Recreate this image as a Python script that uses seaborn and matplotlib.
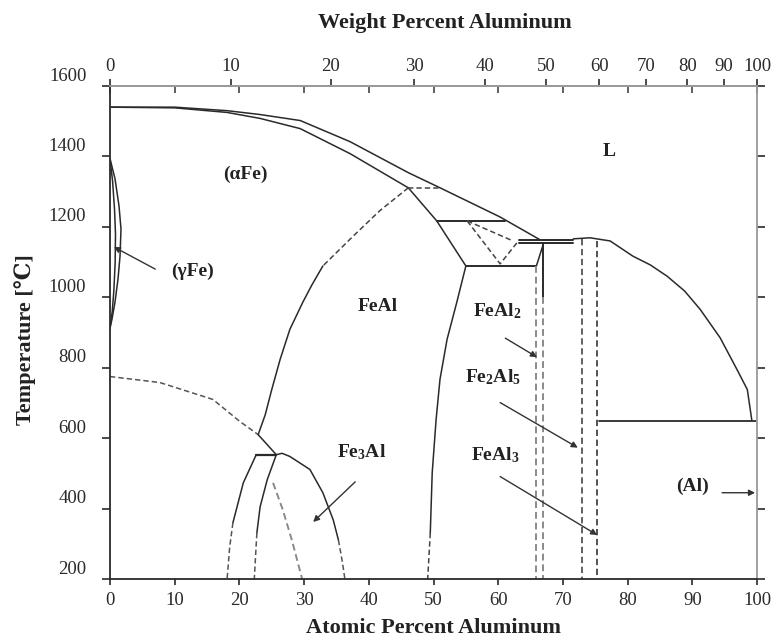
# Diagramme de phases Fe-Al (at.% Al, degres C)

import matplotlib
matplotlib.use("Agg")
import matplotlib.pyplot as plt
import matplotlib.transforms as mtransforms
import numpy as np
import pandas as pd
import seaborn as sns

# liquidus / solidus cote Fe
liq_fe_x = [0, 10, 18.1, 23.2, 29.4, 37.1, 46.1, 51.0, 60.3, 66.5]
liq_fe_t = [1540, 1540, 1530, 1519, 1502, 1442, 1354, 1311, 1228, 1163]
sol_fe_x = [0, 10, 18.1, 23.2, 29.4, 37.1, 46.1]
sol_fe_t = [1540, 1538, 1525, 1508, 1479, 1408, 1311]
# liquidus cote Al
liq_al_x = [71.6, 74.2, 77.3, 80.8, 83.5, 86.1, 88.8, 91.2, 94.3, 96.9, 98.5, 99.2]
liq_al_t = [1166, 1169, 1160, 1117, 1092, 1060, 1018, 966, 885, 795, 738, 650]

# boucle gamma
gam_ext_x = [0, 0.77, 1.39, 1.70, 1.55, 1.24, 0.77, 0.31, 0]
gam_ext_t = [1394, 1337, 1260, 1194, 1117, 1052, 986, 938, 912]
gam_int_x = [0, 0.4, 0.7, 0.85, 0.8, 0.6, 0.35, 0]
gam_int_t = [1394, 1330, 1250, 1180, 1100, 1020, 960, 912]

# transition A2/B2
b2_tir_x = [46.1, 41.7, 37.6, 32.9]
b2_tir_t = [1311, 1246, 1174, 1089]
b2_x = [32.9, 31.2, 29.8, 27.8, 26.3, 25.0, 24.0, 22.9]
b2_t = [1089, 1035, 986, 909, 824, 738, 667, 610]

# transition magnetique
mag_x = [0, 7.7, 15.9, 20.1, 22.9]
mag_t = [775, 758, 710, 647, 610]

# domaine Fe3Al
tri_x = [22.9, 25.7]
tri_t = [610, 553]
pal_x = [22.6, 25.7]
pal_t = [553, 553]
gauche_x = [22.6, 20.6, 19.0]
gauche_t = [553, 473, 360]
gauche_tir_x = [19.0, 18.5, 18.1]
gauche_tir_t = [360, 291, 200]
milieu_x = [25.7, 24.3, 23.2, 22.7]
milieu_t = [553, 482, 405, 331]
milieu_tir_x = [22.7, 22.3]
milieu_tir_t = [331, 200]
dome_x = [25.7, 26.6, 27.8, 30.9, 32.9, 34.5, 35.3]
dome_t = [553, 557, 548, 511, 445, 368, 311]
dome_tir_x = [35.3, 35.9, 36.3]
dome_tir_t = [311, 250, 200]
gris_x = [25.2, 26.7, 28.1, 29.7]
gris_t = [473, 397, 311, 200]

# limite droite de FeAl
feal_x = [55.0, 53.6, 52.1, 51.0, 50.4, 49.8, 49.5]
feal_t = [1089, 986, 881, 767, 653, 502, 331]
feal_tir_x = [49.5, 49.1]
feal_tir_t = [331, 200]

# zone epsilon
eps_x = [46.1, 50.5, 55.0]
eps_t = [1311, 1217, 1089]
peri_x = [46.1, 51.0]
peri_t = [1311, 1311]
h1217_x = [50.5, 61.1]
h1217_t = [1217, 1217]
h1089_x = [55.0, 65.9]
h1089_t = [1089, 1089]
v_tir_x = [55.2, 60.3, 62.9]
v_tir_t = [1217, 1095, 1155]
d_tir_x = [55.2, 62.3]
d_tir_t = [1217, 1160]
eut_x = [63.2, 71.6]
eut_haut_t = [1163, 1163]
eut_bas_t = [1155, 1155]

# intermetalliques
feal2_diag_x = [66.9, 65.9]
feal2_diag_t = [1147, 1089]
feal2_g_x = [65.9, 65.9]
feal2_g_t = [1089, 200]
feal2_d_x = [66.9, 66.9]
feal2_d_t = [1155, 1000]
feal2_d_tir_t = [1000, 200]
fe2al5_x = [73.0, 73.0]
fe2al5_t = [1166, 200]
feal3_x = [75.3, 75.3]
feal3_t = [1160, 200]
eut_al_x = [75.6, 99.9]
eut_al_t = [650, 650]

# etiquettes (texte, x, T)
etiquettes = ["(\u03b1Fe)", "(\u03b3Fe)", "L", "FeAl", r"FeAl$_2$",
              r"Fe$_2$Al$_5$", r"FeAl$_3$", r"Fe$_3$Al", "(Al)"]
etiq_x = [20.9, 12.7, 77.1, 41.4, 59.8, 59.2, 59.5, 38.9, 90.1]
etiq_t = [1348, 1075, 1414, 975, 961, 773, 553, 559, 462]

# fleches (depart -> pointe)
fl_x0 = [7.0, 37.9, 61.1, 60.3, 60.3, 94.6]
fl_t0 = [1080, 476, 884, 701, 491, 445]
fl_x1 = [0.6, 31.4, 66.0, 72.3, 75.3, 99.7]
fl_t1 = [1143, 362, 830, 573, 325, 445]

wt_ticks = [0, 10, 20, 30, 40, 50, 60, 70, 80, 90, 100]

sns.set_theme(style="ticks")
plt.rcParams["font.family"] = ["Liberation Serif", "DejaVu Serif", "Noto Sans CJK JP"]
plt.rcParams["mathtext.fontset"] = "custom"
plt.rcParams["mathtext.rm"] = "Liberation Serif:bold"
plt.rcParams["mathtext.it"] = "Liberation Serif:bold"
plt.rcParams["mathtext.bf"] = "Liberation Serif:bold"

fig = plt.figure(figsize=(7.79, 6.41), dpi=100)
ax = fig.add_axes([0.1412, 0.0967, 0.8306, 0.7691])

NOIR = "#2a2a2a"
GRIS = "#8a8a8a"
TIRETS = (0, (3.5, 2))


def courbe(x, t, style="-", color=NOIR, lw=1.1):
    df = pd.DataFrame({"x": x, "t": t})
    sns.lineplot(data=df, x="x", y="t", sort=False, estimator=None, ax=ax,
                 color=color, lw=lw, linestyle=style)


courbe(liq_fe_x, liq_fe_t)
courbe(sol_fe_x, sol_fe_t)
courbe(liq_al_x, liq_al_t)
courbe(gam_ext_x, gam_ext_t)
courbe(gam_int_x, gam_int_t)
courbe(b2_tir_x, b2_tir_t, TIRETS, "#444")
courbe(b2_x, b2_t)
courbe(mag_x, mag_t, TIRETS, "#555")
courbe(tri_x, tri_t)
courbe(pal_x, pal_t, lw=1.6)
courbe(gauche_x, gauche_t)
courbe(gauche_tir_x, gauche_tir_t, TIRETS, "#555")
courbe(milieu_x, milieu_t)
courbe(milieu_tir_x, milieu_tir_t, TIRETS, "#555")
courbe(dome_x, dome_t)
courbe(dome_tir_x, dome_tir_t, TIRETS, "#555")
courbe(gris_x, gris_t, TIRETS, GRIS, lw=1.4)
courbe(feal_x, feal_t)
courbe(feal_tir_x, feal_tir_t, TIRETS, "#444")
courbe(eps_x, eps_t)
courbe(peri_x, peri_t, TIRETS, "#444")
courbe(h1217_x, h1217_t, lw=1.4)
courbe(h1089_x, h1089_t, lw=1.4)
courbe(v_tir_x, v_tir_t, TIRETS, "#444")
courbe(d_tir_x, d_tir_t, TIRETS, "#444")
courbe(eut_x, eut_haut_t, lw=1.4)
courbe(eut_x, eut_bas_t, lw=1.4)
courbe(feal2_diag_x, feal2_diag_t)
courbe(feal2_g_x, feal2_g_t, TIRETS, GRIS, lw=1.4)
courbe(feal2_d_x, feal2_d_t, lw=1.4)
courbe(feal2_d_x, feal2_d_tir_t, TIRETS, GRIS, lw=1.4)
courbe(fe2al5_x, fe2al5_t, TIRETS, "#555", lw=1.3)
courbe(feal3_x, feal3_t, TIRETS, "#444", lw=1.3)
courbe(eut_al_x, eut_al_t, lw=1.3)

for txt, x, t in zip(etiquettes, etiq_x, etiq_t):
    ax.text(x, t, txt, fontsize=14, fontweight="bold", ha="center", va="center", color="#222")

for x0, t0, x1, t1 in zip(fl_x0, fl_t0, fl_x1, fl_t1):
    ax.annotate("", xy=(x1, t1), xytext=(x0, t0),
                arrowprops=dict(arrowstyle="-|>", color="#333", lw=1.0,
                                mutation_scale=9, shrinkA=0, shrinkB=0))

ax.set_xlim(0, 100)
ax.set_ylim(200, 1600)
ax.set_xticks(range(0, 101, 10))
ax.set_yticks(range(200, 1601, 200))
ax.tick_params(axis="x", direction="out", length=4, width=1.2, pad=5, labelsize=13.5, colors=NOIR)
ax.tick_params(axis="y", direction="out", length=6, width=1.2, pad=11, labelsize=13.5, colors=NOIR,
               right=True)
ax.set_xlabel("Atomic Percent Aluminum", fontsize=16, fontweight="bold", color="#222")
ax.xaxis.set_label_coords(0.5, -0.099)
ax.xaxis.label.set_va("center")
ax.set_ylabel("Temperature [\u2103]", fontsize=16, fontweight="bold", color="#222")
ax.yaxis.set_label_coords(-0.131, 0.485)
ax.yaxis.label.set_va("center")

for cote in ["left", "bottom"]:
    ax.spines[cote].set_color(NOIR)
    ax.spines[cote].set_linewidth(1.3)
for cote in ["top", "right"]:
    ax.spines[cote].set_color("#999")
    ax.spines[cote].set_linewidth(1.3)

# etiquettes de l'axe y un peu au-dessus des graduations, comme sur l'original
decal = mtransforms.ScaledTranslation(0, 0.12, fig.dpi_scale_trans)
for lab in ax.get_yticklabels():
    lab.set_transform(lab.get_transform() + decal)


def at_vers_wt(a):
    a = np.asarray(a, dtype=float)
    with np.errstate(divide="ignore", invalid="ignore"):
        return 100 * 26.98 * a / (26.98 * a + 55.845 * (100 - a))


def wt_vers_at(w):
    w = np.asarray(w, dtype=float)
    with np.errstate(divide="ignore", invalid="ignore"):
        return 100 * (w / 26.98) / (w / 26.98 + (100 - w) / 55.845)


# graduations at.% sur le haut (vers l'interieur)
haut_at = ax.secondary_xaxis("top")
haut_at.set_xticks(range(0, 101, 10))
haut_at.tick_params(direction="in", length=5, width=1.2, labeltop=False, colors="#444")
haut_at.spines["top"].set_visible(False)

# echelle en pourcentage massique
haut_wt = ax.secondary_xaxis("top", functions=(at_vers_wt, wt_vers_at))
haut_wt.set_xticks(wt_ticks)
haut_wt.tick_params(direction="out", length=5, width=1.2, pad=3, labelsize=13.5, colors=NOIR)
haut_wt.spines["top"].set_color("#999")
haut_wt.spines["top"].set_linewidth(1.3)

fig.text(445 / 779, 1 - 23 / 641, "Weight Percent Aluminum", fontsize=16, fontweight="bold",
         ha="center", va="center", color="#222")

fig.savefig("out.png", dpi=100, facecolor="white")
